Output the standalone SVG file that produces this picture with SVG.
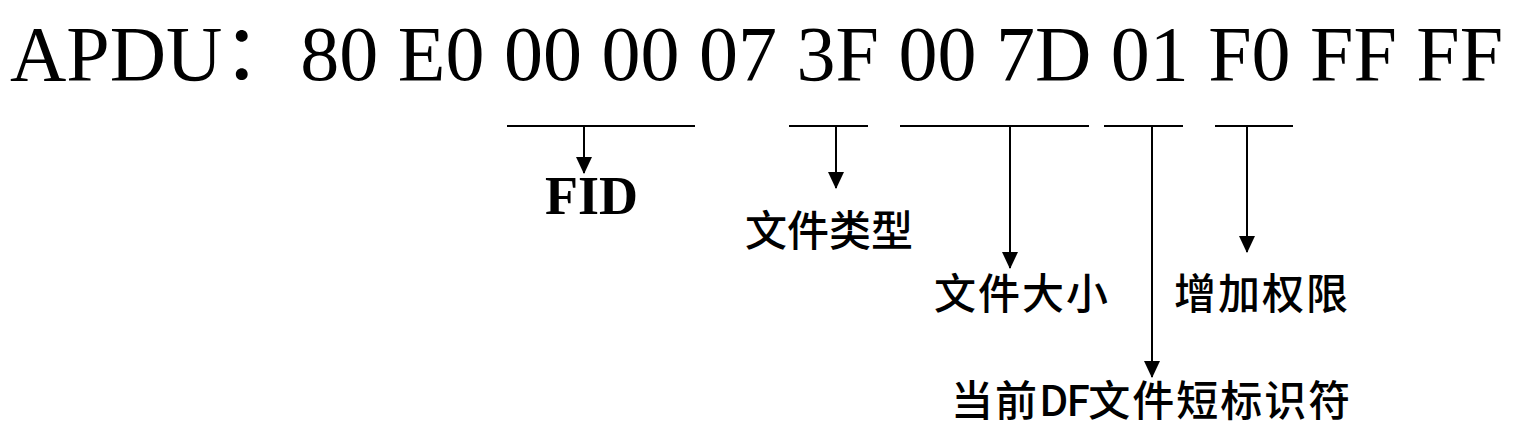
<svg xmlns="http://www.w3.org/2000/svg" width="1526" height="440" viewBox="0 0 1526 440">
<style>
.title{font-family:"Liberation Serif","Times New Roman","Noto Sans CJK SC",serif;font-size:78px;fill:#000}
.fid{font-family:"Liberation Serif","Times New Roman",serif;font-size:54px;font-weight:bold;fill:#000}
.cn{font-family:"Noto Sans CJK SC","Noto Sans CJK TC",sans-serif;font-size:42px;font-weight:500;fill:#000;letter-spacing:2px}
.bar{stroke:#000;stroke-width:2;fill:none}
.arr{stroke:#000;stroke-width:2;fill:none;marker-end:url(#ah)}
</style>
<defs>
<marker id="ah" markerUnits="userSpaceOnUse" markerWidth="17" markerHeight="16" refX="16" refY="8" orient="auto" viewBox="0 0 17 16" preserveAspectRatio="none">
<path d="M0,0 L17,8 L0,16 Z" fill="#000"/>
</marker>
</defs>
<rect width="1526" height="440" fill="#fff"/>
<g id="title">
<text class="title" x="10" y="80">APDU：80 E0 00 00 07 3F 00 7D 01 F0 FF FF</text>
</g>
<g id="connectors">
<line class="bar" x1="507" y1="126" x2="695" y2="126"/>
<line class="arr" x1="584" y1="126" x2="584" y2="173"/>
<line class="bar" x1="789" y1="126" x2="868" y2="126"/>
<line class="arr" x1="836" y1="126" x2="836" y2="188"/>
<line class="bar" x1="900" y1="126" x2="1089" y2="126"/>
<line class="arr" x1="1010" y1="126" x2="1010" y2="268"/>
<line class="bar" x1="1104" y1="126" x2="1183" y2="126"/>
<line class="arr" x1="1152" y1="126" x2="1152" y2="377"/>
<line class="bar" x1="1215" y1="126" x2="1293" y2="126"/>
<line class="arr" x1="1247" y1="126" x2="1247" y2="252"/>
</g>
<g id="fid">
<text class="fid" x="545" y="214">FID</text>
</g>
<g id="filetype">
<text class="cn" x="745" y="246" style="letter-spacing:0px">文件类型</text>
</g>
<g id="filesize">
<text class="cn" x="934" y="309">文件大小</text>
</g>
<g id="permission">
<text class="cn" x="1174" y="309">增加权限</text>
</g>
<g id="sfi">
<text class="cn" x="951" y="416">当前<tspan style="letter-spacing:-2px">DF</tspan>文件短标识符</text>
</g>
</svg>
